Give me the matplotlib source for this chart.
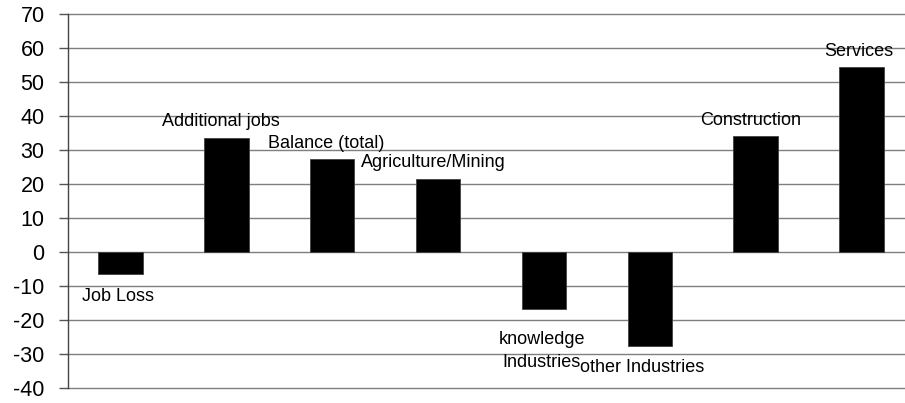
import matplotlib
matplotlib.use("Agg")
import matplotlib.pyplot as plt

categories = ["Job Loss", "Additional jobs", "Balance (total)", "Agriculture/Mining",
              "knowledge\nIndustries", "other Industries", "Construction", "Services"]
values = [-6.5, 33.6, 27.3, 21.5, -16.9, -27.6, 34.1, 54.4]
yticks = [-40, -30, -20, -10, 0, 10, 20, 30, 40, 50, 60, 70]

plt.rcParams['font.family'] = ['Liberation Sans', 'DejaVu Sans']

fig = plt.figure(figsize=(9.05, 4.03), dpi=100)
W, H = 905, 403
ax = fig.add_axes([67.5 / W, (H - 388) / H, 847 / W, 374 / H])

x = list(range(len(categories)))
ax.bar(x, values, width=0.42, color="black", edgecolor="#404040", linewidth=0.6, zorder=3)

ax.set_xlim(-0.5, len(categories) - 0.5)
ax.set_ylim(-40, 70)
ax.set_yticks(yticks)
ax.set_yticklabels([str(t) for t in yticks], fontsize=15.5)
ax.set_xticks([])
ax.yaxis.grid(True, color="#7f7f7f", linewidth=1.0, zorder=0)
for gl in ax.get_ygridlines():
    gl.set_clip_on(False)
ax.tick_params(axis="y", length=6.5, width=1.0, color="#555555", pad=10, direction="out")
for s in ["top", "right", "bottom"]:
    ax.spines[s].set_visible(False)
ax.spines["left"].set_color("#444444")
ax.spines["left"].set_linewidth(1.0)

# label offsets (data x shift) to mimic original placement
shifts = [-0.02, -0.05, -0.06, -0.04, -0.02, -0.07, -0.05, -0.03]
for i, (c, v) in enumerate(zip(categories, values)):
    if v >= 0:
        ax.annotate(c, (i + shifts[i], v), xytext=(0, 11.5), textcoords="offset points",
                    ha="center", va="center", fontsize=13)
    else:
        ax.annotate(c, (i + shifts[i], v), xytext=(0, -15.8), textcoords="offset points",
                    ha="center", va="top" if "\n" in c else "center", fontsize=13,
                    linespacing=1.45)

fig.savefig("out.png", dpi=100)
